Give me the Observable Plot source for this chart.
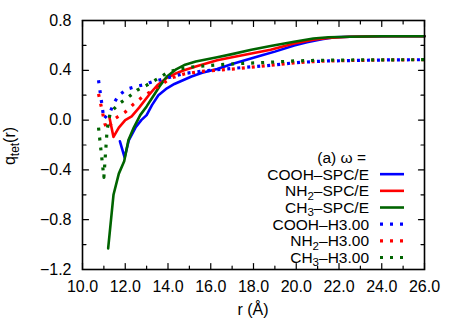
<!DOCTYPE html>
<html><head><meta charset="utf-8">
<script src="https://cdn.jsdelivr.net/npm/d3@7"></script>
<script src="https://cdn.jsdelivr.net/npm/@observablehq/plot@0.6"></script>
<style>
body{margin:0;background:#fff}
#chart{width:463px;height:324px}
</style>
</head><body><div id="chart"></div>
<script>
// ---- data ----
const seriesNames = ["COOH–SPC/E", "NH2–SPC/E", "CH3–SPC/E", "COOH–H3.00", "NH2–H3.00", "CH3–H3.00"];
const seriesColors = ["#0000ff", "#ff0000", "#006400", "#0000ff", "#ff0000", "#006400"];

const coohSpceX = [11.75, 11.97, 12.17, 12.48, 12.75, 13.0, 13.25, 13.55, 13.95, 14.3, 14.7, 15.1, 15.6, 16.3, 17.0, 17.8, 18.4, 19.0, 19.9, 20.5, 21.2, 21.8, 22.5, 23.5, 24.5, 26.0];
const coohSpceY = [-0.17, -0.30, -0.16, -0.06, 0.00, 0.04, 0.12, 0.20, 0.255, 0.29, 0.32, 0.35, 0.38, 0.41, 0.45, 0.49, 0.52, 0.55, 0.60, 0.625, 0.65, 0.665, 0.67, 0.672, 0.673, 0.673];

const nh2SpceX = [11.25, 11.45, 11.7, 12.0, 12.3, 12.65, 13.1, 13.5, 13.9, 14.3, 14.75, 15.3, 16.3, 17.0, 17.9, 18.8, 19.9, 20.8, 21.5, 22.5, 24.0, 26.0];
const nh2SpceY = [0.03, -0.135, -0.06, 0.00, 0.03, 0.10, 0.20, 0.28, 0.335, 0.37, 0.40, 0.43, 0.48, 0.505, 0.535, 0.565, 0.615, 0.645, 0.66, 0.67, 0.673, 0.673];

const ch3SpceX = [11.2, 11.45, 11.7, 11.95, 12.15, 12.4, 12.7, 13.0, 13.3, 13.6, 13.95, 14.4, 14.8, 15.3, 16.3, 17.0, 17.9, 18.8, 19.9, 20.8, 21.5, 22.5, 24.0, 26.0];
const ch3SpceY = [-1.03, -0.60, -0.43, -0.33, -0.16, -0.06, 0.04, 0.11, 0.19, 0.27, 0.35, 0.41, 0.445, 0.47, 0.505, 0.53, 0.565, 0.595, 0.63, 0.655, 0.665, 0.67, 0.673, 0.673];

const coohH3X = [10.75, 11.0, 11.3, 11.5, 11.7, 12.1, 12.5, 12.9, 13.3, 13.8, 14.3, 14.8, 15.6, 16.3, 17.0, 17.9, 18.8, 19.9, 20.8, 21.5, 23.0, 24.5, 26.0];
const coohH3Y = [0.32, 0.01, 0.07, 0.145, 0.20, 0.25, 0.27, 0.285, 0.31, 0.33, 0.355, 0.375, 0.393, 0.405, 0.415, 0.428, 0.44, 0.46, 0.47, 0.475, 0.48, 0.484, 0.485];

const nh2H3X = [10.75, 11.05, 11.15, 11.5, 12.0, 12.4, 12.8, 13.2, 13.65, 14.1, 14.75, 15.5, 16.3, 17.0, 17.9, 18.8, 19.9, 20.8, 21.5, 23.0, 24.5, 26.0];
const nh2H3Y = [0.21, -0.03, -0.07, 0.01, 0.065, 0.13, 0.185, 0.23, 0.28, 0.335, 0.37, 0.39, 0.40, 0.41, 0.425, 0.44, 0.46, 0.47, 0.475, 0.48, 0.484, 0.485];

const ch3H3X = [10.75, 11.0, 11.15, 11.3, 11.7, 12.15, 12.55, 13.0, 13.6, 14.0, 14.5, 15.0, 16.3, 17.7, 18.6, 19.9, 21.0, 22.0, 23.5, 26.0];
const ch3H3Y = [-0.06, -0.46, -0.08, 0.06, 0.13, 0.185, 0.24, 0.28, 0.34, 0.385, 0.41, 0.425, 0.444, 0.457, 0.463, 0.475, 0.48, 0.482, 0.484, 0.485];

const xTicks = [10, 12, 14, 16, 18, 20, 22, 24, 26];
const xMinorTicks = [11, 13, 15, 17, 19, 21, 23, 25];
const yTicks = [-1.2, -0.8, -0.4, 0.0, 0.4, 0.8];
const yMinorTicks = [-1.0, -0.6, -0.2, 0.2, 0.6];

// ---- build table ----
const allX = [coohSpceX, nh2SpceX, ch3SpceX, coohH3X, nh2H3X, ch3H3X];
const allY = [coohSpceY, nh2SpceY, ch3SpceY, coohH3Y, nh2H3Y, ch3H3Y];
const rows = [];
seriesNames.forEach((name, i) => {
  allX[i].forEach((x, j) => rows.push({series: name, x, y: allY[i][j], dotted: i >= 3}));
});
const solidRows = rows.filter(d => !d.dotted);
const dottedRows = rows.filter(d => d.dotted);

const tickShape = {draw(ctx, l) { ctx.moveTo(0, 0); ctx.lineTo(0, -l); }};
const tickOpts = (anchor, rotate, len) => ({
  x: anchor === "bottom" || anchor === "top" ? d => d : undefined,
  y: anchor === "left" || anchor === "right" ? d => d : undefined,
  frameAnchor: anchor, anchor: "start", rotate, length: len,
  shape: tickShape, stroke: "black", strokeWidth: 1.2
});
const fmt = d => d.toFixed(1).replace("-", "−");

const svg = Plot.plot({
  width: 463, height: 324,
  marginLeft: 82, marginRight: 39, marginTop: 20, marginBottom: 55,
  style: {fontFamily: "'Liberation Sans', Arial, sans-serif", fontSize: "16px", background: "#fff", color: "black"},
  x: {domain: [10, 26]},
  y: {domain: [-1.2, 0.8]},
  color: {domain: seriesNames, range: seriesColors},
  marks: [
    Plot.line(solidRows, {x: "x", y: "y", z: "series", stroke: "series", strokeWidth: 2.6, strokeLinejoin: "round"}),
    Plot.line(dottedRows, {x: "x", y: "y", z: "series", stroke: "series", strokeWidth: 3.2, strokeDasharray: "3,7", strokeLinecap: "butt"}),
    Plot.vector(xTicks, tickOpts("bottom", 0, 6)),
    Plot.vector(xMinorTicks, tickOpts("bottom", 0, 3.5)),
    Plot.vector(xTicks, tickOpts("top", 180, 6)),
    Plot.vector(xMinorTicks, tickOpts("top", 180, 3.5)),
    Plot.vector(yTicks, tickOpts("left", 90, 6)),
    Plot.vector(yMinorTicks, tickOpts("left", 90, 3.5)),
    Plot.vector(yTicks, tickOpts("right", -90, 6)),
    Plot.vector(yMinorTicks, tickOpts("right", -90, 3.5)),
    Plot.axisX(xTicks, {tickSize: 0, tickPadding: 11.5, tickFormat: fmt, label: null, fontSize: 16}),
    Plot.axisY(yTicks, {tickSize: 0, tickPadding: 11, tickFormat: fmt, label: null, fontSize: 16}),
    Plot.frame({stroke: "black", strokeWidth: 1.6})
  ]
});
document.getElementById("chart").appendChild(svg);

// ---- axis titles and legend (text with subscripts) ----
const root = d3.select(svg);
const font = "'Liberation Sans', Arial, sans-serif";
const yl = root.append("text").attr("transform", "translate(15,146) rotate(-90)")
  .attr("text-anchor", "middle").attr("font-family", font).attr("font-size", 16).attr("fill", "black");
yl.append("tspan").text("q");
yl.append("tspan").attr("font-size", 12).attr("dy", 4).text("tet");
yl.append("tspan").attr("dy", -4).text("(r)");

root.append("text").attr("x", 253).attr("y", 315).attr("text-anchor", "middle")
  .attr("font-family", font).attr("font-size", 16).attr("fill", "black").text("r (Å)");

const legendTitle = "(a) ω =";
const legendParts = [
  [["COOH–SPC/E", 0]],
  [["NH", 0], ["2", 1], ["–SPC/E", 0]],
  [["CH", 0], ["3", 1], ["–SPC/E", 0]],
  [["COOH–H3.00", 0]],
  [["NH", 0], ["2", 1], ["–H3.00", 0]],
  [["CH", 0], ["3", 1], ["–H3.00", 0]]
];
const lg = root.append("g").attr("font-family", font).attr("font-size", 15.5).attr("fill", "black");
const rowY0 = 157.5, rowStep = 16.67;
lg.append("text").attr("x", 366).attr("y", rowY0).attr("dy", "0.35em").attr("text-anchor", "end").text(legendTitle);
legendParts.forEach((parts, i) => {
  const y = rowY0 + rowStep * (i + 1);
  const t = lg.append("text").attr("x", 369).attr("y", y).attr("dy", "0.35em").attr("text-anchor", "end");
  let sub = false;
  parts.forEach(([s, isSub]) => {
    const ts = t.append("tspan").text(s);
    if (isSub && !sub) { ts.attr("dy", 3.5).attr("font-size", 11.5); sub = true; }
    else if (!isSub && sub) { ts.attr("dy", -3.5); sub = false; }
  });
  lg.append("line").attr("x1", 380).attr("x2", 404).attr("y1", y).attr("y2", y)
    .attr("stroke", seriesColors[i]).attr("stroke-width", i < 3 ? 2.6 : 3.2)
    .attr("stroke-dasharray", i < 3 ? null : "3,7");
});
</script>
</body></html>
